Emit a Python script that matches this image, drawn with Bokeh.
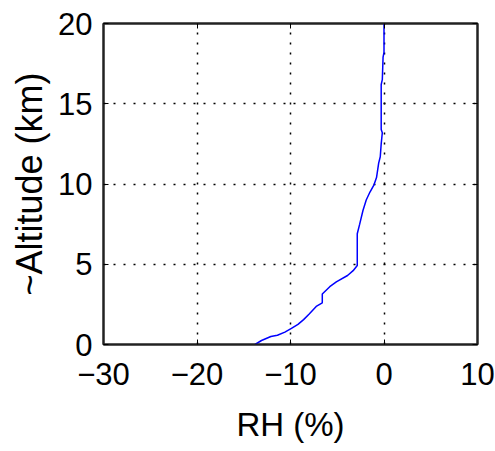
from bokeh.plotting import figure
from bokeh.models import LinearAxis, FixedTicker, Range1d
from bokeh.embed import file_html
from bokeh.resources import INLINE

# Data
rh = [-13.8, -13.1, -12.1, -11.4, -10.6, -9.9, -9.2, -8.6, -8.0, -7.25, -6.6, -6.6,
      -5.8, -5.1, -3.9, -3.3, -2.86, -2.86, -2.6, -2.25, -1.9, -1.5, -1.07, -0.8,
      -0.57, -0.4, -0.3, -0.18, -0.3, -0.3, -0.18, -0.1, 0.0, 0.0]
alt = [0.0, 0.25, 0.5, 0.58, 0.77, 1.0, 1.25, 1.55, 1.9, 2.37, 2.6, 3.15,
       3.6, 3.9, 4.3, 4.6, 4.92, 6.9, 7.5, 8.35, 9.0, 9.5, 9.95, 10.4,
       11.3, 11.7, 12.5, 13.2, 13.4, 16.2, 16.5, 17.9, 18.2, 20.0]

x_ticks = [-30, -20, -10, 0, 10]
x_tick_labels = ["\u221230", "\u221220", "\u221210", "0", "10"]
y_ticks = [0, 5, 10, 15, 20]
y_tick_labels = ["0", "5", "10", "15", "20"]

FONT = "Liberation Sans"

p = figure(width=495, height=451, output_backend="svg", toolbar_location=None,
           x_range=Range1d(-30, 10), y_range=Range1d(0, 20),
           min_border_left=103, min_border_right=18, min_border_top=23,
           min_border_bottom=107)
p.background_fill_color = "white"
p.border_fill_color = "white"
p.outline_line_color = "#222222"
p.outline_line_width = 2

p.line(rh, alt, line_color="#0000ff", line_width=1.5)

for ax, ticks, labels in ((p.xaxis[0], x_ticks, x_tick_labels),
                          (p.yaxis[0], y_ticks, y_tick_labels)):
    ax.ticker = FixedTicker(ticks=ticks)
    ax.major_label_overrides = {t: l for t, l in zip(ticks, labels)}
    ax.major_label_text_font = FONT
    ax.major_label_text_font_size = "31px"
    ax.major_label_text_color = "black"
    ax.axis_label_text_font = FONT
    ax.axis_label_text_font_style = "normal"
    ax.axis_label_text_color = "black"
    ax.axis_line_color = "#222222"
    ax.axis_line_width = 2
    ax.major_tick_in = 5
    ax.major_tick_out = 0
    ax.major_tick_line_color = "black"
    ax.minor_tick_line_color = None

p.xaxis[0].axis_label = "RH (%)"
p.yaxis[0].axis_label = "~Altitude (km)"
p.xaxis[0].axis_label_text_font_size = "33px"
p.yaxis[0].axis_label_text_font_size = "36px"
p.xaxis[0].major_label_standoff = 18
p.yaxis[0].major_label_standoff = 11
p.xaxis[0].axis_label_standoff = 18
p.yaxis[0].axis_label_standoff = 5

for loc, ticks in (("above", x_ticks), ("right", y_ticks)):
    a = LinearAxis(ticker=FixedTicker(ticks=ticks))
    a.major_label_text_font_size = "0px"
    a.major_label_standoff = 0
    a.major_tick_in = 5
    a.major_tick_out = 0
    a.major_tick_line_color = "black"
    a.minor_tick_line_color = None
    a.axis_line_color = "#222222"
    a.axis_line_width = 2
    p.add_layout(a, loc)

for g in (p.xgrid[0], p.ygrid[0]):
    g.grid_line_color = "black"
    g.grid_line_dash = "2 8"
    g.grid_line_width = 1.5

open("out.html", "w").write(file_html(p, INLINE))
